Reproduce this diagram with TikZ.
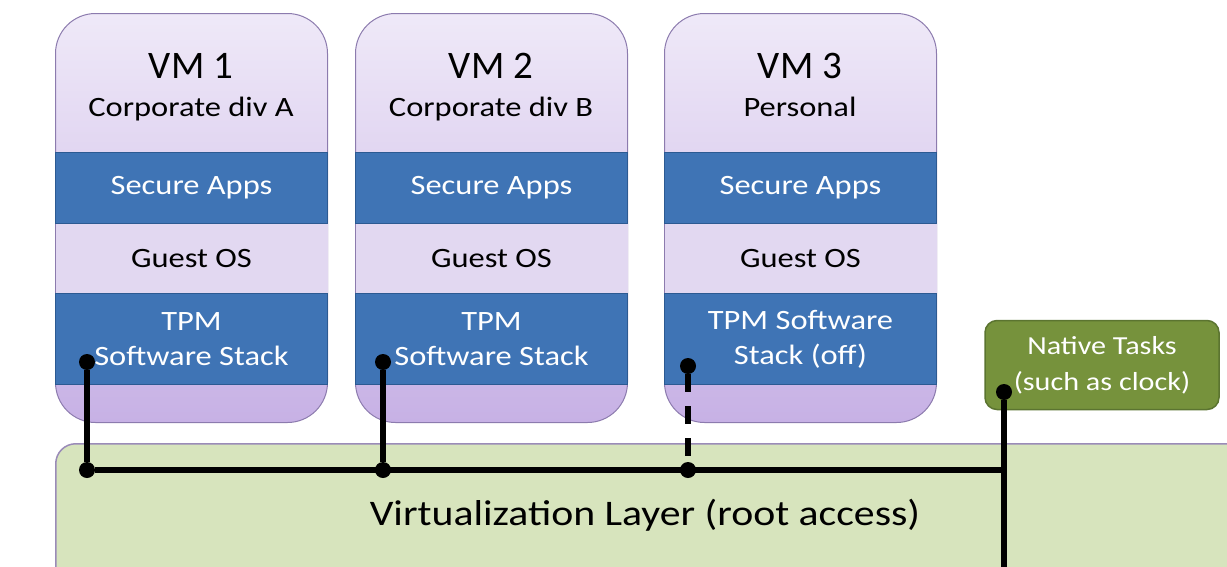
\documentclass[tikz,border=0pt]{standalone}
\usepackage{fontspec}
\setmainfont{Carlito}
\newfontfamily\widefont[FakeStretch=1.16]{Carlito}
\usepackage{tikz}
\usetikzlibrary{positioning}

\definecolor{vmtop}{HTML}{EFE9F8}
\definecolor{vmlow}{HTML}{C7B1E5}
\definecolor{vmedge}{HTML}{8C7BAE}
\definecolor{guestfill}{HTML}{E2D8F1}
\definecolor{stackblue}{HTML}{3F74B5}
\definecolor{stackedge}{HTML}{2C5A92}
\definecolor{layergreen}{HTML}{D7E4BD}
\definecolor{layeredge}{HTML}{9A8BB8}
\definecolor{nativegreen}{HTML}{76923C}
\definecolor{nativeedge}{HTML}{5B7430}

\tikzset{
  vmbox/.style={draw=vmedge, line width=1pt, rounded corners=40pt, top color=vmtop, bottom color=vmlow,
    minimum width=272pt, minimum height=409pt, inner sep=0pt, anchor=north west},
  vmname/.style={font=\fontsize{39}{40}\selectfont, inner sep=0pt},
  vmsub/.style={font=\widefont\fontsize{28}{30}\selectfont, inner sep=0pt},
  band/.style={minimum width=272pt, inner sep=0pt, align=center, font=\widefont\fontsize{28}{35}\selectfont},
  apps/.style={band, fill=stackblue, draw=stackedge, line width=1pt, text=white, minimum height=71pt},
  guest/.style={band, fill=guestfill, minimum height=69pt},
  tss/.style={band, fill=stackblue, draw=stackedge, line width=1pt, text=white, minimum height=91pt},
  dot/.style={circle, fill=black, inner sep=0pt, minimum size=16pt},
  link/.style={line width=6pt},
}

\begin{document}
\begin{tikzpicture}[x=1pt, y=-1pt]
  \useasboundingbox (0,0) rectangle (1227,566);

  % hypervisor layer
  \node[draw=layeredge, line width=1.5pt, fill=layergreen, rounded corners=20pt, minimum width=1190pt,
    minimum height=170pt, anchor=north west] (virt) at (55,443) {};
  \node[font=\widefont\fontsize{36}{40}\selectfont] (virtlabel) at (645,515) {Virtualization Layer (root access)};

  % virtual machines
  \node[vmbox] (vm1) at (55,13) {};
  \node[vmbox] (vm2) at (355,13) {};
  \node[vmbox] (vm3) at (664,13) {};

  \node[vmname] (name1) at (191,66) {VM 1};
  \node[vmsub, below=18pt of name1] (sub1) {Corporate div A};
  \node[apps, below=139pt of vm1.north] (apps1) {Secure Apps};
  \node[guest, below=0pt of apps1] (os1) {Guest OS};
  \node[tss, below=0pt of os1] (tss1) {TPM\\Software Stack};

  \node[vmname] (name2) at (491,66) {VM 2};
  \node[vmsub, below=18pt of name2] (sub2) {Corporate div B};
  \node[apps, below=139pt of vm2.north] (apps2) {Secure Apps};
  \node[guest, below=0pt of apps2] (os2) {Guest OS};
  \node[tss, below=0pt of os2] (tss2) {TPM\\Software Stack};

  \node[vmname] (name3) at (800,66) {VM 3};
  \node[vmsub, below=18pt of name3] (sub3) {Personal};
  \node[apps, below=139pt of vm3.north] (apps3) {Secure Apps};
  \node[guest, below=0pt of apps3] (os3) {Guest OS};
  \node[tss, below=0pt of os3] (tss3) {TPM Software\\Stack (off)};

  % native tasks
  \node[draw=nativeedge, line width=1.5pt, fill=nativegreen, rounded corners=12pt, minimum width=234pt,
    minimum height=89pt, text=white, align=center, font=\widefont\fontsize{26}{38}\selectfont] (native) at (1102,365)
    {Native Tasks\\[-2pt](such as clock)};

  % connections
  \node[dot] (s1) at (87,362) {};
  \node[dot] (s2) at (383,362) {};
  \node[dot] (s3) at (688,366) {};
  \node[dot] (s4) at (1004,392) {};
  \node[dot] (j1) at (87,470) {};
  \node[dot] (j2) at (383,470) {};
  \node[dot] (j3) at (688,470) {};
  \coordinate (j4) at (1004,470);
  \coordinate (gnd) at (1004,570);

  \draw[link] (s1) -- (j1) -- (j4);
  \draw[link] (s2) -- (j2);
  \draw[link, dash pattern=on 18pt off 14pt] (s3) -- (j3);
  \draw[link] (s4) -- (gnd);
\end{tikzpicture}
\end{document}
